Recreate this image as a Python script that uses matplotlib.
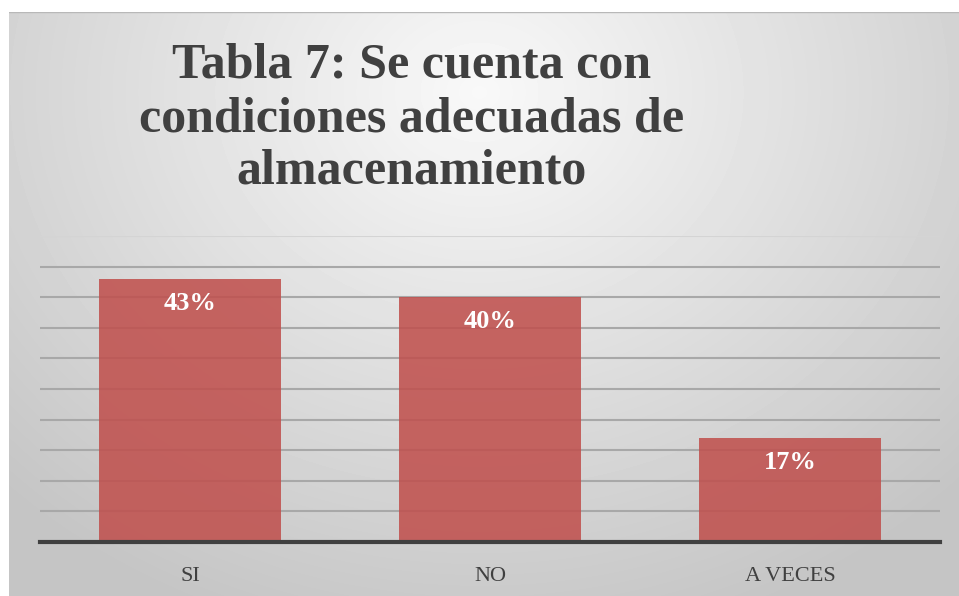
import numpy as np
import matplotlib.pyplot as plt

categories = ['SI', 'NO', 'A VECES']
values = [43, 40, 17]
labels = ['43%', '40%', '17%']

W, H = 959, 596
fig = plt.figure(figsize=(W / 100, H / 100), dpi=100)
fig.patch.set_facecolor('white')

# radial gradient background panel
bg = fig.add_axes([9 / W, 0, 1 - 9 / W, (H - 12) / H])
yy, xx = np.mgrid[0:584, 0:950]
r = np.sqrt(((xx - 470) / 640.0) ** 2 + ((yy - 80) / 540.0) ** 2)
shade = 0.975 - 0.195 * np.clip(r, 0, 1.05)
bg.imshow(shade, cmap='gray', vmin=0, vmax=1, aspect='auto',
          extent=[0, 1, 0, 1], origin='upper')
bg.set_axis_off()
bg.plot([0, 1], [1, 1], color='#b8b8b8', lw=1, transform=bg.transAxes)

ax = fig.add_axes([40 / W, 54 / H, 900 / W, 306 / H])
ax.patch.set_alpha(0)
x = np.arange(len(categories))

for g in range(5, 51, 5):
    ax.axhline(g, color='#a8a8a8' if g < 50 else '#d4d4d4', lw=1.5, zorder=1)

bars = ax.bar(x, values, width=0.607, color='#C0504D', alpha=0.87, zorder=2)

for xi, v, lab in zip(x, values, labels):
    ax.text(xi, v - 4, lab, ha='center', va='center', color='white',
            fontsize=19, fontweight='bold', family='Liberation Serif', zorder=3)

ax.set_xlim(-0.5, 2.5)
ax.set_ylim(0, 50)
ax.set_yticks([])
ax.set_xticks(x)
ax.set_xticklabels(categories, family='Liberation Serif', fontsize=16, color='#404040')
ax.tick_params(axis='x', length=0, pad=18)
for s in ['top', 'right', 'left']:
    ax.spines[s].set_visible(False)
ax.spines['bottom'].set_color('#404040')
ax.spines['bottom'].set_linewidth(3)
ax.spines['bottom'].set_zorder(4)

fig.text(412 / W, 1 - 119 / H,
         'Tabla 7: Se cuenta con\ncondiciones adecuadas de\nalmacenamiento',
         ha='center', va='center', fontsize=36, fontweight='bold',
         family='Liberation Serif', color='#404040', linespacing=1.2)

fig.savefig('out.png', dpi=100)
